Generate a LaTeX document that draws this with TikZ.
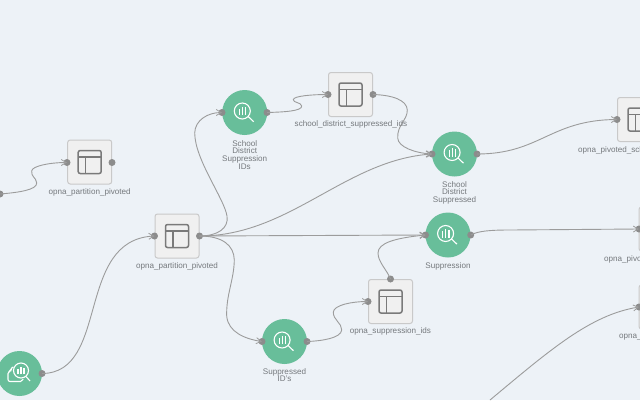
\documentclass[tikz,border=0pt]{standalone}
\usepackage{fontspec}
\setmainfont{Liberation Sans}
\usetikzlibrary{arrows.meta}
\definecolor{bgc}{HTML}{EDF2F7}
\definecolor{boxf}{HTML}{F0F0F0}
\definecolor{boxd}{HTML}{C9C9C9}
\definecolor{grn}{HTML}{68BE9A}
\definecolor{icon}{HTML}{7A7A7A}
\definecolor{txt}{HTML}{75797D}
\definecolor{edge}{HTML}{9C9C9C}
\definecolor{portc}{HTML}{8C8C8C}
\tikzset{
 x=1pt,y=-1pt,
 tablebox/.style={draw=boxd,fill=boxf,rounded corners=2.5pt,line width=1pt,minimum size=44pt,inner sep=0pt},
 runcircle/.style={circle,fill=grn,minimum size=45pt,inner sep=0pt},
 portdot/.style={circle,fill=portc,minimum size=7pt,inner sep=0pt},
 lbl/.style={text=txt,font=\fontsize{8.1}{7.9}\selectfont,align=center,anchor=north,inner sep=0pt},
 lblw/.style={lbl,anchor=north west},
 wire/.style={draw=edge,line width=0.9pt,-{Straight Barb[length=5pt,width=6pt,line width=0.8pt]}},
 tableicon/.pic={
  \draw[icon,line width=1.5pt,rounded corners=2pt] (-11.5,-11.5) rectangle (11.5,11.5);
  \draw[icon,line width=1.5pt] (-11.5,-5) -- (11.5,-5) (-4.2,-5) -- (-4.2,11.5);
 },
 lensicon/.pic={
  \draw[white,line width=1.1pt] (-2.4,-1.5) circle (8);
  \draw[white,line width=1.2pt] (-5.4,2.5) -- (-5.4,-3.8) (-2.2,2.5) -- (-2.2,-5.8) (1,2.5) -- (1,-5.4);
  \draw[white,line width=1.1pt] (3.5,4) -- (9,9.2);
 },
 cloudicon/.pic={
  \draw[white,line width=1.1pt] (1.5,-3) circle (7.5);
  \draw[white,line width=1.2pt] (-1.5,0.8) -- (-1.5,-4.5) (1.5,0.8) -- (1.5,-6.5) (4.5,0.8) -- (4.5,-6);
  \draw[white,line width=1.1pt] (6.5,3) -- (10.5,7.5);
  \draw[white,line width=1.1pt,rounded corners=2pt] (-6,-6.5) -- (-8,-6.5) -- (-8,-3) -- (-11.5,-2) -- (-11.5,8) -- (3,8) -- (3.5,5.5);
 }
}
\begin{document}
\begin{tikzpicture}
\useasboundingbox (0,0) rectangle (640,400);
\clip (0,0) rectangle (640,400);
\fill[bgc] (0,0) rectangle (640,400);

% boxes
\node[tablebox] (boxA) at (89.7,162) {};
\node[tablebox] (boxB) at (177,236) {};
\node[tablebox] (boxC) at (350.5,94.5) {};
\node[tablebox] (boxD) at (390.5,301.5) {};
\node[tablebox] (boxE) at (639.5,119.5) {};
\node[tablebox] (boxF) at (661,229) {};
\node[tablebox] (boxG) at (661,307) {};
% circles
\node[runcircle] (runA) at (244.7,112.5) {};
\node[runcircle] (runB) at (454.5,154) {};
\node[runcircle] (runC) at (448,235) {};
\node[runcircle] (runD) at (284.5,341.5) {};
\node[runcircle] (runE) at (19.5,373.5) {};
% icons
\pic at (boxA) {tableicon};
\pic at (boxB) {tableicon};
\pic at (boxC) {tableicon};
\pic at (boxD) {tableicon};
\pic at (boxE) {tableicon};
\pic at (boxF) {tableicon};
\pic at (boxG) {tableicon};
\pic at (runA) {lensicon};
\pic at (runB) {lensicon};
\pic at (runC) {lensicon};
\pic at (runD) {lensicon};
\pic at (runE) {cloudicon};

% ports
\coordinate (offB) at (490,400);
\node[portdot] (pOff) at (0,194) {};
\node[portdot] (aIn) at (67,162.5) {};
\node[portdot] (aOut) at (112,162.5) {};
\node[portdot] (bIn) at (154.5,236) {};
\node[portdot] (bOut) at (199.5,236) {};
\node[portdot] (cIn) at (328,94.5) {};
\node[portdot] (cOut) at (373,94.5) {};
\node[portdot] (dIn) at (368,301.5) {};
\node[portdot] (dTop) at (390.5,279) {};
\node[portdot] (eIn) at (617,119.5) {};
\node[portdot] (fIn) at (639,229) {};
\node[portdot] (gIn) at (639,307) {};
\node[portdot] (raIn) at (222,112.5) {};
\node[portdot] (raOut) at (267,112.5) {};
\node[portdot] (rbIn) at (432,154) {};
\node[portdot] (rbOut) at (477,154) {};
\node[portdot] (rcIn) at (425.5,235) {};
\node[portdot] (rcOut) at (470.7,235) {};
\node[portdot] (rdIn) at (262,341.5) {};
\node[portdot] (rdOut) at (307,341.5) {};
\node[portdot] (reOut) at (42,373.5) {};

% connectors
\draw[wire] (pOff.center) .. controls (18,192.5) and (37,190) .. (36.7,183) .. controls (36,177) and (31,177) .. (31.7,171) .. controls (32,166) and (50,162.5) .. (aIn.center);
\draw[wire] (reOut.center) .. controls (110,373) and (75,240) .. (bIn.center);
\draw[wire] (bOut.center) .. controls (218,236) and (229,228) .. (227,216) .. controls (224,198) and (195,160) .. (194.7,133) .. controls (195,120) and (208,112.5) .. (raIn.center);
\draw[wire] (bOut.center) .. controls (290,236) and (345,160) .. (rbIn.center);
\draw[wire] (bOut.center) -- (rcIn.center);
\draw[wire] (bOut.center) .. controls (222,236) and (234,245) .. (234.3,260) .. controls (234,280) and (226,295) .. (226.7,316) .. controls (228,332) and (245,339) .. (rdIn.center);
\draw[wire] (raOut.center) .. controls (285,112) and (302,111) .. (301.7,106) .. controls (301,102) and (293,103) .. (293.3,99.5) .. controls (294,96) and (312,94.5) .. (cIn.center);
\draw[wire] (cOut.center) .. controls (392,95) and (407,100) .. (407.3,110) .. controls (407.5,120) and (397,125) .. (397.7,138) .. controls (398,147) and (415,153) .. (rbIn.center);
\draw[wire] (dTop.center) .. controls (387,270) and (378,262) .. (378,253) .. controls (378,243) and (395,238) .. (rcIn.center);
\draw[wire] (rdOut.center) .. controls (322,341) and (341,338) .. (341.7,330) .. controls (342,323) and (333,320) .. (333.3,312) .. controls (334,305) and (352,301.5) .. (dIn.center);
\draw[wire] (rbOut.center) .. controls (540,154) and (550,120) .. (eIn.center);
\draw[wire] (rcOut.center) .. controls (478,231) and (490,230) .. (510,230) -- (fIn.center);
\draw[wire] (offB) .. controls (550,350) and (590,315) .. (gIn.center);

% labels
\node[lbl] (tA) at (89.7,188.5) {opna\_partition\_pivoted};
\node[lbl] (tB) at (177,262.5) {opna\_partition\_pivoted};
\node[lbl] (tC) at (351,120) {school\_district\_suppressed\_ids};
\node[lbl] (tD) at (390.5,327.5) {opna\_suppression\_ids};
\node[lbl] (tRA) at (244.7,140) {School\\District\\Suppression\\IDs};
\node[lbl] (tRB) at (454.5,181) {School\\District\\Suppressed};
\node[lbl] (tRC) at (448,262) {Suppression};
\node[lbl] (tRD) at (284.5,368) {Suppressed\\ID's};
\node[lblw] (tE) at (578,146) {opna\_pivoted\_sch};
\node[lblw] (tF) at (604,255) {opna\_pivo};
\node[lblw] (tG) at (619,334) {opna\_};
\end{tikzpicture}
\end{document}
